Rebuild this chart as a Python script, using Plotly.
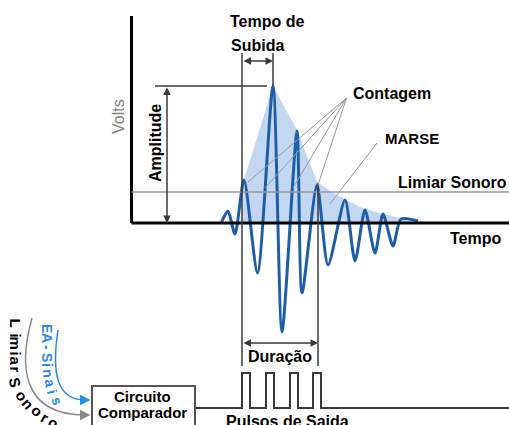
import plotly.graph_objects as go

# waveform (time, volts)
wave_t = [90, 96.5, 103.5, 112.5, 126, 141.5, 150.5, 165.5, 170.5, 185.5, 196.5,
          213.5, 223.5, 233.5, 243.5, 251.5, 261.5, 269.5, 286.5]
wave_v = [1, 12, -11, 43, -50, 137, -109, 92, -70, 38, -42, 23, -38, 13, -30, 9, -23, 4, 2]

# MARSE envelope
env_t = [110.5, 112.5, 141.5, 165.5, 185.5, 202, 228, 248, 268, 286.5]
env_v = [0, 43, 137, 93, 41, 30, 16, 10, 5, 1]

threshold_v = 31
rise_start, peak_t, peak_v = 110.5, 141.5, 137
dur_end = 186.5

# counted peaks (Contagem)
count_t = [116.5, 133.5, 161.5, 186.5]
count_v = [41, 35, 35, 38]

# output pulses
pulse_start = [110.5, 134.5, 158.5, 181.5]
pulse_end = [118.5, 142.5, 166.5, 189.5]
pulse_low, pulse_high = -185, -150

limiar_chars = list("LimiarSonoro")
limiar_t = [-116, -116, -116, -116, -116, -116, -116, -109.5, -103.5, -94.5, -86.5, -78.5]
limiar_v = [-100, -112, -120, -130, -138, -146, -159, -172, -180, -187, -194, -199]
limiar_ang = [90, 90, 90, 90, 90, 90, 80, 60, 50, 40, 30, 25]

sinais_chars = list("EA-Sinais")
sinais_t = [-84.5, -84.5, -84.5, -84.5, -84.5, -83.5, -81.5, -79.5, -74.5]
sinais_v = [-105, -115, -124, -134, -142, -150, -160, -169, -178]
sinais_ang = [90, 90, 90, 90, 90, 85, 80, 75, 70]

FONT = "Liberation Sans, Arial, sans-serif"
DARK = "#3a3a3a"
GRAY = "#9a9a9a"
BLUE = "#1c5fa8"

fig = go.Figure()

fig.add_trace(go.Scatter(x=env_t, y=env_v, mode="lines", fill="tozeroy",
                         fillcolor="#c3d7f3", line=dict(width=0), hoverinfo="skip"))
fig.add_trace(go.Scatter(x=wave_t, y=wave_v, mode="lines",
                         line=dict(color=BLUE, width=3, shape="spline", smoothing=0.7)))

# pulse train out of the comparator
px, py = [63.5], [pulse_low]
for s, e in zip(pulse_start, pulse_end):
    px += [s, s, e, e]
    py += [pulse_low, pulse_high, pulse_high, pulse_low]
px.append(377.5)
py.append(pulse_low)
fig.add_trace(go.Scatter(x=px, y=py, mode="lines", line=dict(color=DARK, width=2)))

shapes = [
    # axes
    dict(type="line", x0=0, x1=0, y0=0, y1=207, line=dict(color="black", width=3)),
    dict(type="line", x0=0, x1=377.5, y0=0, y1=0, line=dict(color="black", width=3)),
    # threshold
    dict(type="line", x0=0, x1=377.5, y0=threshold_v, y1=threshold_v, line=dict(color=GRAY, width=1.5)),
    # rise time / duration markers
    dict(type="line", x0=rise_start, x1=rise_start, y0=170, y1=-143, line=dict(color=DARK, width=1.5)),
    dict(type="line", x0=peak_t, x1=peak_t, y0=170, y1=peak_v, line=dict(color=DARK, width=1.5)),
    dict(type="line", x0=dur_end, x1=dur_end, y0=40, y1=-143, line=dict(color=DARK, width=1.5)),
    dict(type="line", x0=23.5, x1=135.5, y0=peak_v, y1=peak_v, line=dict(color=DARK, width=1.5)),
    # MARSE pointer
    dict(type="line", x0=245.5, x1=198.5, y0=80, y1=19, line=dict(color=GRAY, width=1)),
    # comparator box
    dict(type="rect", x0=-39.5, x1=63.5, y0=-163, y1=-230, fillcolor="white",
         line=dict(color="#555555", width=2)),
    # input curves
    dict(type="path", path="M -99.5,-95 C -112,-140 -112,-192 -46,-192",
         line=dict(color="#8a8a8a", width=1.5)),
    dict(type="path", path="M -73.5,-107 C -80,-150 -75,-177 -46,-177",
         line=dict(color="#2a8ae6", width=1.5)),
]
for ct, cv in zip(count_t, count_v):
    shapes.append(dict(type="line", x0=215, y0=125, x1=ct, y1=cv, line=dict(color=GRAY, width=1)))
fig.update_layout(shapes=shapes)


def label(x, y, text, size=16, color="black", bold=True, angle=0):
    fig.add_annotation(x=x, y=y, text=text, showarrow=False, textangle=angle,
                       font=dict(family=FONT, size=size, color=color,
                                 weight="bold" if bold else "normal"))


def arrow(x0, y0, x1, y1, color=DARK, side="end+start", size=1.0):
    fig.add_annotation(x=x1, y=y1, ax=x0, ay=y0, xref="x", yref="y", axref="x", ayref="y",
                       text="", showarrow=True, arrowhead=2, arrowside=side,
                       arrowsize=size, arrowwidth=1.5, arrowcolor=color)


label(135.5, 202, "Tempo de")
label(125.5, 178, "Subida")
label(260.5, 130, "Contagem")
label(280.5, 85, "MARSE", size=15)
label(320.5, 41, "Limiar Sonoro")
label(343.5, -15, "Tempo")
label(-13.5, 106, "Volts", color="#808080", bold=False, angle=-90)
label(23.5, 80, "Amplitude", angle=-90)
label(148.5, -133, "Duração")
label(155.5, -198, "Pulsos de Saida")
label(10.5, -173.5, "Circuito", size=15)
label(10.5, -189.5, "Comparador", size=15)

for ch, x, y, a in zip(limiar_chars, limiar_t, limiar_v, limiar_ang):
    label(x, y, ch, size=15, angle=a)
for ch, x, y, a in zip(sinais_chars, sinais_t, sinais_v, sinais_ang):
    label(x, y, ch, size=14, color="#2a8ae6", angle=a)

arrow(rise_start, 162, peak_t, 162)
arrow(35.5, peak_v, 35.5, 0)
arrow(rise_start, -120, dur_end, -120)
arrow(-52, -192, -41, -192, color="#8a8a8a", side="end", size=1.4)
arrow(-52, -177, -41, -177, color="#2a8ae6", side="end", size=1.4)

fig.update_layout(
    width=509, height=425,
    margin=dict(l=0, r=0, t=0, b=0),
    paper_bgcolor="white", plot_bgcolor="white",
    showlegend=False,
    xaxis=dict(range=[-131.5, 377.5], visible=False, fixedrange=True),
    yaxis=dict(range=[-202, 223], visible=False, fixedrange=True),
)

# drop the default page margin so the figure fills the window exactly
fig.write_html("out.html", config={"displayModeBar": False},
               post_script="document.body.style.margin='0';document.body.style.overflow='hidden';")
